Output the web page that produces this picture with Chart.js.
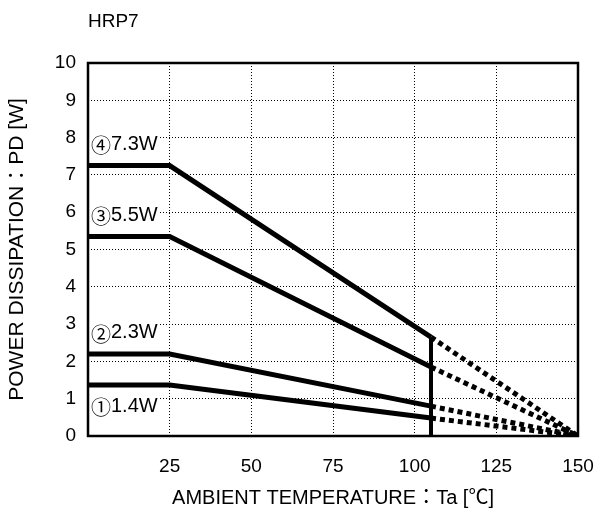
<!DOCTYPE html>
<html><head><meta charset="utf-8">
<script src="https://cdn.jsdelivr.net/npm/chart.js@4/dist/chart.umd.min.js"></script>
<style>html,body{margin:0;padding:0;background:#fff}#wrap{width:598px;height:508px}</style>
</head><body><div id="wrap"><canvas id="c" width="598" height="508"></canvas></div>
<script>
const chartTitle = 'HRP7';
const xTitle = 'AMBIENT TEMPERATURE：Ta [℃]';
const yTitle = 'POWER DISSIPATION：PD [W]';
const temps = [0, 25, 105, 150];          // breakpoints (°C)
const ratedPower = [1.37, 2.2, 5.35, 7.25]; // flat level up to 25°C
const powerAt105 = [0.48, 0.8, 1.85, 2.65];
const endPower = [0, 0, 0, 0];
const seriesLabels = ['①1.4W', '②2.3W', '③5.5W', '④7.3W'];
const xTicks = [25, 50, 75, 100, 125, 150];
const yTicks = [0,1,2,3,4,5,6,7,8,9,10];

const FONT = "'Liberation Sans', Arial, 'Noto Sans CJK JP', sans-serif";
const CJK = "'Noto Sans CJK JP', 'DejaVu Sans', sans-serif";
const datasets = [];
ratedPower.forEach((p, i) => {
  datasets.push({
    data: [{x: temps[0], y: p}, {x: temps[1], y: p}, {x: temps[2], y: powerAt105[i]}],
    borderColor: '#000', borderWidth: 5, pointRadius: 0, fill: false, tension: 0,
    borderJoinStyle: 'miter'
  });
  datasets.push({
    data: [{x: temps[2], y: powerAt105[i]}, {x: temps[3], y: endPower[i]}],
    borderColor: '#000', borderWidth: 5, borderDash: [5, 4], pointRadius: 0, fill: false
  });
});
datasets.push({
  data: [{x: temps[2], y: 0}, {x: temps[2], y: Math.max(...powerAt105)}],
  borderColor: '#000', borderWidth: 4, pointRadius: 0, fill: false
});

const overlay = {
  id: 'overlay',
  afterDatasetsDraw(chart) {
    const {ctx, chartArea: a, scales: {y}} = chart;
    ctx.save();
    ctx.textBaseline = 'middle';
    seriesLabels.forEach((t, i) => {
      const py = y.getPixelForValue(ratedPower[i]) + (i === 0 ? 22 : -21);
      const mark = t.charAt(0), rest = t.slice(1);
      ctx.font = '20px ' + CJK;
      const w1 = ctx.measureText(mark).width;
      ctx.font = '20px ' + FONT;
      const w2 = ctx.measureText(rest).width;
      ctx.fillStyle = '#fff';
      ctx.fillRect(a.left + 3, py - 10, w1 + w2 + 2, 20);
      ctx.fillStyle = '#000';
      ctx.font = '20px ' + CJK;
      ctx.fillText(mark, a.left + 3, py + 1);
      ctx.font = '20px ' + FONT;
      ctx.fillText(rest, a.left + 3 + w1, py);
    });
    ctx.lineWidth = 2.5;
    ctx.strokeStyle = '#000';
    ctx.strokeRect(a.left, a.top, a.right - a.left, a.bottom - a.top);
    ctx.font = '19px ' + FONT;
    ctx.textBaseline = 'alphabetic';
    ctx.fillText(chartTitle, a.left, 27);
    ctx.restore();
  }
};

new Chart(document.getElementById('c'), {
  type: 'line',
  data: { datasets },
  plugins: [overlay],
  options: {
    responsive: false, animation: false,
    layout: { padding: { top: 63, right: 20, left: 0, bottom: 0 } },
    plugins: { legend: { display: false }, tooltip: { enabled: false } },
    scales: {
      x: {
        type: 'linear', min: 0, max: 150,
        afterBuildTicks: s => { s.ticks = xTicks.map(v => ({value: v})); },
        afterFit: s => { s.height = 72; s.paddingRight = 0; s.paddingLeft = 0; },
        grid: { color: '#000', lineWidth: 1, drawTicks: false },
        border: { display: false, dash: [1, 2] },
        ticks: { color: '#000', font: { size: 19, family: FONT }, padding: 19, maxRotation: 0 },
        title: { display: true, text: xTitle, color: '#000', font: { size: 20, family: FONT }, padding: { top: 0, bottom: -2 } }
      },
      y: {
        min: 0, max: 10,
        afterBuildTicks: s => { s.ticks = yTicks.map(v => ({value: v})); },
        afterFit: s => { s.width = 88; s.paddingTop = 0; s.paddingBottom = 0; },
        grid: { color: '#000', lineWidth: 1, drawTicks: false },
        border: { display: false, dash: [1, 2] },
        ticks: { color: '#000', font: { size: 19, family: FONT }, padding: 12 },
        title: { display: true, text: yTitle, color: '#000', font: { size: 21, family: FONT }, padding: { top: 5, bottom: 0 } }
      }
    }
  }
});
</script></body></html>
